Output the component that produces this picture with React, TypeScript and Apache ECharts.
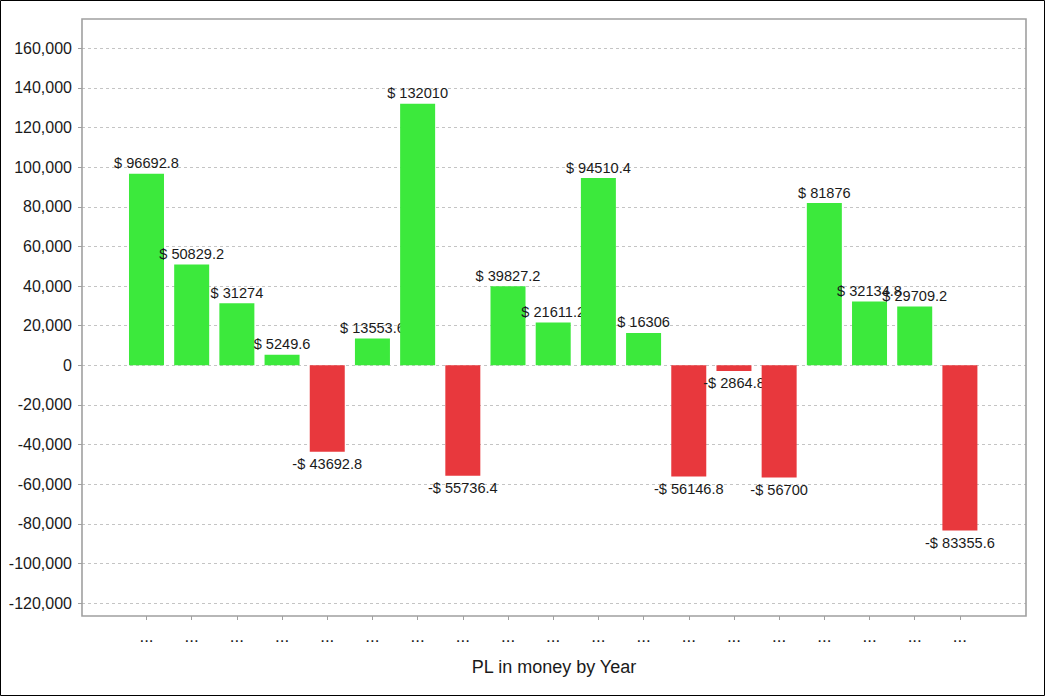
import React, { useEffect, useRef } from "react";
import * as echarts from "echarts";

const categories: string[] = [
  "...", "...", "...", "...", "...", "...", "...", "...", "...", "...",
  "...", "...", "...", "...", "...", "...", "...", "...", "...",
];
const plValues: number[] = [
  96692.8, 50829.2, 31274, 5249.6, -43692.8, 13553.6, 132010, -55736.4, 39827.2,
  21611.2, 94510.4, 16306, -56146.8, -2864.8, -56700, 81876, 32134.8, 29709.2, -83355.6,
];
const yMin = -120000;
const yMax = 160000;
const yStep = 20000;
const axisTitle = "PL in money by Year";

const FONT = "'Liberation Sans', Arial, Helvetica, sans-serif";
const GREEN = "#3ce93c";
const RED = "#e8383d";

function fmtMoney(v: number): string {
  return v >= 0 ? "$ " + String(v) : "-$ " + String(-v);
}

export default function App() {
  const ref = useRef<HTMLDivElement>(null);
  useEffect(() => {
    if (!ref.current) return;
    const chart = echarts.init(ref.current, null, { renderer: "svg" });
    const series = plValues.map((v, i) => ({
      type: "bar",
      name: "s" + i,
      xAxisIndex: 1,
      yAxisIndex: 1,
      stack: "pl",
      z: 2 + i,
      barWidth: 35,
      data: plValues.map((_, j) => (j === i ? v : "-")),
      itemStyle: { color: v >= 0 ? GREEN : RED },
      label: {
        show: true,
        position: v >= 0 ? "top" : "bottom",
        distance: v >= 0 ? 3 : 5,
        color: "#1a1a1a",
        fontFamily: FONT,
        fontSize: 14.6,
        formatter: (p: any) => fmtMoney(p.value),
      },
    }));
    chart.setOption({
      animation: false,
      backgroundColor: "#ffffff",
      textStyle: { fontFamily: FONT },
      grid: [
        { left: 82, top: 48.3, width: 944, height: 554.7, containLabel: false },
        { left: 123.9, top: 48.3, width: 858.6, height: 554.7, containLabel: false },
      ],
      xAxis: [
        { type: "value", gridIndex: 0, show: false, min: 0, max: 1 },
        {
          type: "category",
          gridIndex: 1,
          data: categories,
          position: "bottom",
          offset: 13,
          axisLine: { show: false, onZero: false },
          axisTick: {
            show: true,
            alignWithLabel: true,
            length: 4,
            lineStyle: { color: "#a0a0a0", width: 1 },
          },
          axisLabel: {
            show: true,
            interval: 0,
            margin: 12,
            color: "#1a1a1a",
            fontFamily: FONT,
            fontSize: 17,
          },
          splitLine: { show: false },
        },
      ],
      yAxis: [
        {
          type: "value",
          gridIndex: 0,
          min: yMin,
          max: yMax,
          interval: yStep,
          axisLine: { show: false },
          axisTick: {
            show: true,
            length: 4,
            lineStyle: { color: "#a0a0a0", width: 1 },
          },
          axisLabel: {
            margin: 10,
            color: "#1a1a1a",
            fontFamily: FONT,
            fontSize: 16,
            formatter: (v: number) => v.toLocaleString("en-US"),
          },
          splitLine: {
            show: true,
            lineStyle: { color: "#c4c4c4", type: [3, 3], width: 1 },
          },
        },
        {
          type: "value",
          gridIndex: 1,
          min: yMin,
          max: yMax,
          interval: yStep,
          show: false,
          splitLine: { show: false },
        },
      ],
      graphic: [
        {
          type: "rect",
          z: 1,
          silent: true,
          shape: { x: 82, y: 19, width: 944, height: 597 },
          style: { fill: "none", stroke: "#a0a0a0", lineWidth: 1.6 },
        },
        {
          type: "rect",
          z: 100,
          silent: true,
          shape: { x: 0.5, y: 0.5, width: 1044, height: 695 },
          style: { fill: "none", stroke: "#000000", lineWidth: 1 },
        },
        {
          type: "text",
          x: 554,
          y: 667,
          style: {
            text: axisTitle,
            fill: "#1a1a1a",
            font: "18px " + FONT,
            textAlign: "center",
            textVerticalAlign: "middle",
          },
        },
      ],
      series,
    });
    return () => chart.dispose();
  }, []);
  return (
    <div
      ref={ref}
      style={{ position: "fixed", left: 0, top: 0, width: 1045, height: 696 }}
    />
  );
}
